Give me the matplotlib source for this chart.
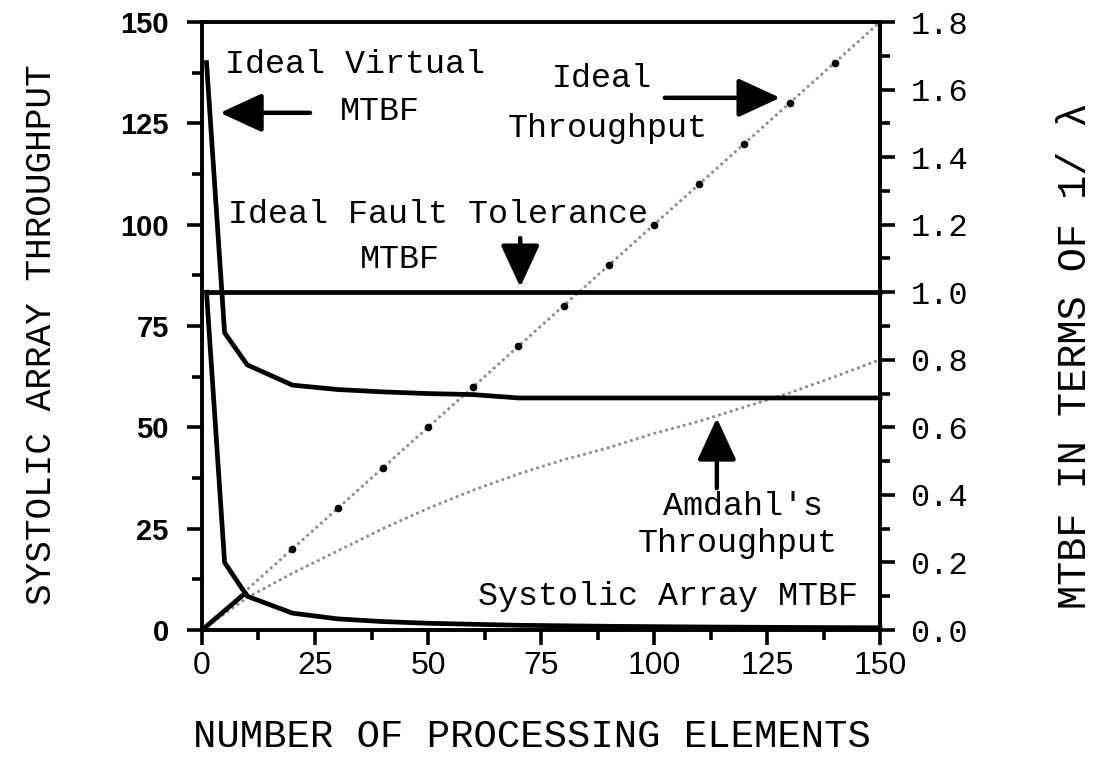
import matplotlib
matplotlib.use('Agg')
import matplotlib.pyplot as plt
from matplotlib.ticker import MultipleLocator, FormatStrFormatter

# throughput curves (left axis)
pe_tp = [0, 10, 20, 30, 40, 50, 60, 70, 80, 90, 100, 110, 120, 130, 140, 150]
ideal_tp = [0, 10, 20, 30, 40, 50, 60, 70, 80, 90, 100, 110, 120, 130, 140, 150]
amdahl_tp = [0, 8, 14, 19.5, 25, 30, 34.5, 38.5, 42, 45, 48.5, 51.5, 55, 58.5, 62.5, 66.7]
systolic_pe = [0, 10]
systolic_tp = [0, 9.5]

# MTBF curves in units of 1/lambda (right axis)
pe_mtbf = [1, 5, 10, 20, 30, 40, 50, 60, 70, 80, 90, 100, 110, 120, 130, 140, 150]
virtual_mtbf = [1.68, 0.88, 0.785, 0.725, 0.712, 0.705, 0.70, 0.697, 0.687, 0.687,
                0.687, 0.687, 0.687, 0.687, 0.687, 0.687, 0.687]
systolic_mtbf = [1.0, 0.2, 0.1, 0.05, 0.033, 0.025, 0.02, 0.017, 0.014, 0.0125,
                 0.011, 0.01, 0.009, 0.0083, 0.0077, 0.0071, 0.0067]
fault_pe = [1, 150]
fault_mtbf = [1.0, 1.0]

mono = 'Liberation Mono'
sans = 'Liberation Sans'
thick = 3.4

fig = plt.figure(figsize=(11.05, 7.67), dpi=100)
ax = fig.add_axes([0.1828, 0.1786, 0.6136, 0.7927])
ax2 = ax.twinx()

# dotted throughput lines
ax.plot(pe_tp, ideal_tp, color='0.55', lw=2.0, ls=(0, (1, 1.2)), zorder=2, clip_on=False)
ax.plot(pe_tp[2:15], ideal_tp[2:15], ls='none', marker='o', ms=4.5, color='black', zorder=3)
ax.plot(pe_tp, amdahl_tp, color='0.55', lw=2.0, ls=(0, (1, 1.2)), zorder=2, clip_on=False)
ax.plot(systolic_pe, systolic_tp, color='black', lw=thick, zorder=4, clip_on=False,
        solid_capstyle='butt')

# MTBF lines
ax2.plot(pe_mtbf, virtual_mtbf, color='black', lw=thick, zorder=4, clip_on=False)
ax2.plot(pe_mtbf, systolic_mtbf, color='black', lw=thick, zorder=4, clip_on=False)
ax2.plot(fault_pe, fault_mtbf, color='black', lw=thick, zorder=4, clip_on=False)

ax.set_xlim(0, 150)
ax.set_ylim(0, 150)
ax2.set_ylim(0, 1.8)

for s in ax.spines.values():
    s.set_linewidth(2.6)
for s in ax2.spines.values():
    s.set_linewidth(2.6)

ax.xaxis.set_major_locator(MultipleLocator(25))
ax.xaxis.set_minor_locator(MultipleLocator(12.5))
ax.yaxis.set_major_locator(MultipleLocator(25))
ax.yaxis.set_minor_locator(MultipleLocator(12.5))
ax2.yaxis.set_major_locator(MultipleLocator(0.2))
ax2.yaxis.set_minor_locator(MultipleLocator(0.1))
ax2.yaxis.set_major_formatter(FormatStrFormatter('%.1f'))

ax.tick_params(axis='x', which='major', direction='out', length=11, width=2.6, pad=4,
               labelsize=23, labelfontfamily=sans)
ax.tick_params(axis='x', which='minor', direction='out', length=7, width=2.6)
ax.tick_params(axis='y', which='major', direction='out', length=11, width=2.6, pad=13,
               labelsize=21, labelfontfamily=sans)
ax.tick_params(axis='y', which='minor', direction='out', length=7, width=2.6)
ax2.tick_params(axis='y', which='major', direction='out', length=11, width=2.6, pad=11,
                labelsize=23, labelfontfamily=mono)
ax2.tick_params(axis='y', which='minor', direction='out', length=7, width=2.6)

fig.canvas.draw()
for lab in ax.get_yticklabels():
    lab.set_fontweight('bold')

# axis titles
fig.text(0.4814, 0.039, 'NUMBER OF PROCESSING ELEMENTS', family=mono, size=28,
         ha='center', va='center')
fig.text(0.038, 0.563, 'SYSTOLIC ARRAY THROUGHPUT', family=mono, size=26,
         ha='center', va='center', rotation=90)
fig.text(0.973, 0.536, 'MTBF IN TERMS OF 1/ λ', family=mono, size=29,
         ha='center', va='center', rotation=90)

# curve labels
tkw = dict(family=mono, size=24, ha='left', va='baseline')
ax.text(5.1, 137.4, 'Ideal Virtual', **tkw)
ax.text(30.5, 125.8, 'MTBF', **tkw)
ax.text(77.4, 134.0, 'Ideal', **tkw)
ax.text(67.7, 121.6, 'Throughput', **tkw)
ax.text(5.75, 100.4, 'Ideal Fault Tolerance', **tkw)
ax.text(35.0, 89.3, 'MTBF', **tkw)
ax.text(102.0, 28.4, "Amdahl's", **tkw)
ax.text(96.5, 19.2, 'Throughput', **tkw)
ax.text(61.0, 6.2, 'Systolic Array MTBF', **tkw)

# arrows pointing at the curves
akw = dict(arrowstyle='-|>,head_length=1.3,head_width=0.6', mutation_scale=20,
           lw=3.2, color='black', shrinkA=0, shrinkB=0)
ax.annotate('', xy=(4.0, 127.6), xytext=(23.9, 127.6), arrowprops=akw)
ax.annotate('', xy=(127.9, 131.3), xytext=(102.4, 131.3), arrowprops=akw)
ax.annotate('', xy=(70.4, 84.6), xytext=(70.4, 96.7), arrowprops=akw)
ax.annotate('', xy=(113.9, 52.3), xytext=(113.9, 35.0), arrowprops=akw)

fig.savefig('out.png', dpi=100)
